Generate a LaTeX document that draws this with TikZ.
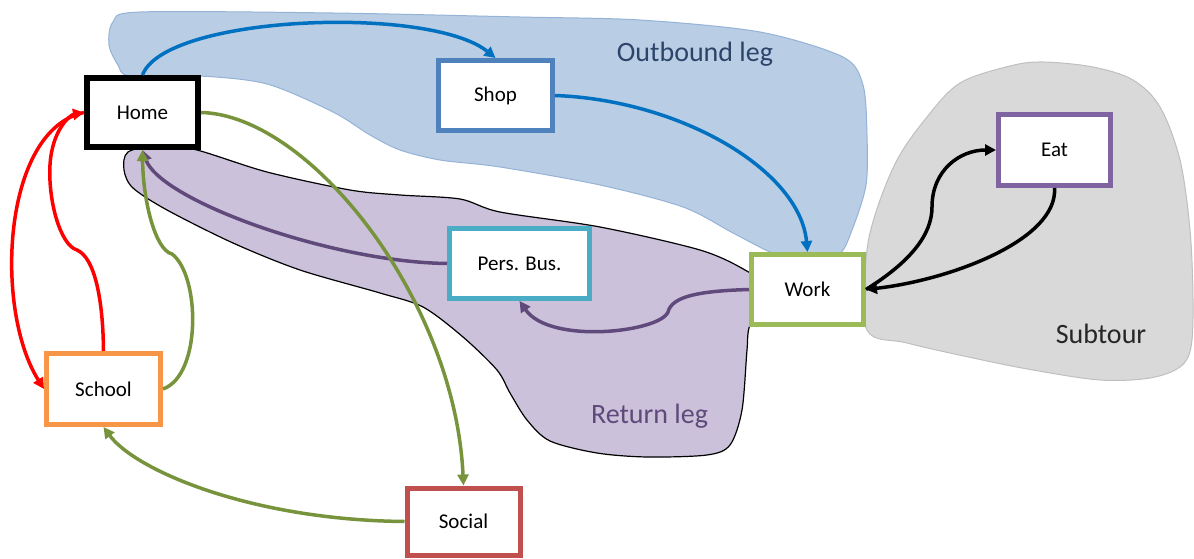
\documentclass[tikz,border=0pt]{standalone}
\usepackage{fontspec}
\setmainfont{Carlito}
\usetikzlibrary{arrows.meta}
\definecolor{bluefill}{HTML}{B9CDE5}
\definecolor{blueedge}{HTML}{95B3D7}
\definecolor{purplefill}{HTML}{CCC1DA}
\definecolor{grayfill}{HTML}{D9D9D9}
\definecolor{grayedge}{HTML}{BFBFBF}
\definecolor{cShop}{HTML}{4F81BD}
\definecolor{cEat}{HTML}{8064A2}
\definecolor{cWork}{HTML}{9BBB59}
\definecolor{cPers}{HTML}{4BACC6}
\definecolor{cSchool}{HTML}{F79646}
\definecolor{cSocial}{HTML}{C0504D}
\definecolor{aBlue}{HTML}{0070C0}
\definecolor{aGreen}{HTML}{77933C}
\definecolor{aPurple}{HTML}{604A7B}
\definecolor{aRed}{HTML}{FF0000}
\definecolor{lOut}{HTML}{2B4468}
\definecolor{lRet}{HTML}{5F497A}
\definecolor{lSub}{HTML}{262626}
\tikzset{
  box/.style={draw, fill=white, line width=5pt, minimum width=112pt, minimum height=70pt,
    inner sep=0pt, font=\fontsize{21}{25}\selectfont},
  arr/.style={line width=3.5pt, -{Triangle[length=11pt,width=11pt]}},
  leglabel/.style={anchor=base, inner sep=0pt, font=\fontsize{28}{32}\selectfont}
}
\begin{document}
\begin{tikzpicture}[x=1pt,y=-1pt]
\useasboundingbox (0,0) rectangle (1194,559);
% blobs
\filldraw[fill=grayfill, draw=grayedge, line width=1pt]
  plot[smooth cycle, tension=0.55] coordinates {(867,330) (866,260) (875,215) (897,160) (927,117) (960,83) (1010,66) (1043,62) (1093,67) (1133,80) (1160,107) (1180,160) (1190,230) (1193,300) (1191,347) (1180,367) (1150,378) (1100,380) (1033,370) (973,358) (907,343)};
\filldraw[fill=bluefill, draw=blueedge, line width=1pt]
  plot[smooth cycle, tension=0.5] coordinates {(109,45) (113,22) (140,12) (333,13) (520,17) (640,20) (760,32) (843,57) (863,85) (867,135) (866,185) (852,230) (838,255) (800,262) (770,252) (733,233) (683,207) (600,185) (500,167) (440,160) (400,150) (370,135) (333,112) (267,84) (200,76) (130,76) (118,65)};
\filldraw[fill=purplefill, draw=black, line width=1.2pt]
  plot[smooth cycle, tension=0.5] coordinates {(197,150) (267,172) (350,190) (400,195) (460,199) (500,212) (600,227) (700,250) (745,270) (770,290) (750,325) (747,350) (742,410) (730,445) (707,455) (647,457) (597,453) (550,441) (527,420) (510,393) (497,370) (463,337) (423,307) (380,293) (300,270) (233,243) (167,210) (133,188) (124,170) (128,152) (160,145)};
% labels
\node[leglabel, text=lOut] (lout) at (695,62) {Outbound leg};
\node[leglabel, text=lRet] (lret) at (649.5,423) {Return leg};
\node[leglabel, text=lSub] (lsub) at (1101,343) {Subtour};
% nodes
\node[box, draw=black, line width=6pt, minimum width=111pt, minimum height=69pt] (home) at (142.5,112.5) {Home};
\node[box, draw=cShop, minimum width=114pt] (shop) at (495.5,95.5) {Shop};
\node[box, draw=cEat, minimum height=71pt] (eat) at (1054.5,150) {Eat};
\node[box, draw=cWork] (work) at (807.5,289.5) {Work};
\node[box, draw=cPers, minimum width=140pt] (pers) at (519.5,263.5) {Pers. Bus.};
\node[box, draw=cSchool, minimum width=114pt, minimum height=71pt] (school) at (103.5,389) {School};
\node[box, draw=cSocial, minimum width=113pt, minimum height=67pt] (social) at (463.5,521.5) {Social};
% arrows
\draw[arr, aBlue] (home.north) .. controls (165,15) and (430,5) .. (shop.north);
\draw[arr, aBlue] (shop.east) .. controls (680,100) and (800,170) .. (work.north);
\draw[arr, aPurple] (pers.west) .. controls (330,262) and (160,200) .. (home.south);
\draw[arr, aPurple] (work.west) .. controls (700,291) and (672,296) .. (668,312) .. controls (660,332) and (550,345) .. (pers.south);
\draw[arr, aGreen] (home.east) .. controls (310,115) and (455,300) .. (social.north);
\draw[arr, aGreen] (school.east) .. controls (202,375) and (200,275) .. (172,254) .. controls (155,250) and (143,200) .. (home.south);
\draw[arr, aGreen] (social.west) .. controls (250,520) and (135,470) .. (school.south);
\draw[arr, aRed] (home.west) .. controls (2,130) and (-6,310) .. (school.west);
\draw[arr, aRed] (school.north) .. controls (103,300) and (95,258) .. (77,250) .. controls (60,245) and (48,200) .. (50,165) .. controls (52,130) and (70,115) .. (home.west);
\draw[arr, black] (work.east) .. controls (910,262) and (932,235) .. (932,207) .. controls (932,170) and (960,150) .. (eat.west);
\draw[arr, black] (eat.south) .. controls (1058,240) and (950,280) .. (work.east);
\end{tikzpicture}
\end{document}
